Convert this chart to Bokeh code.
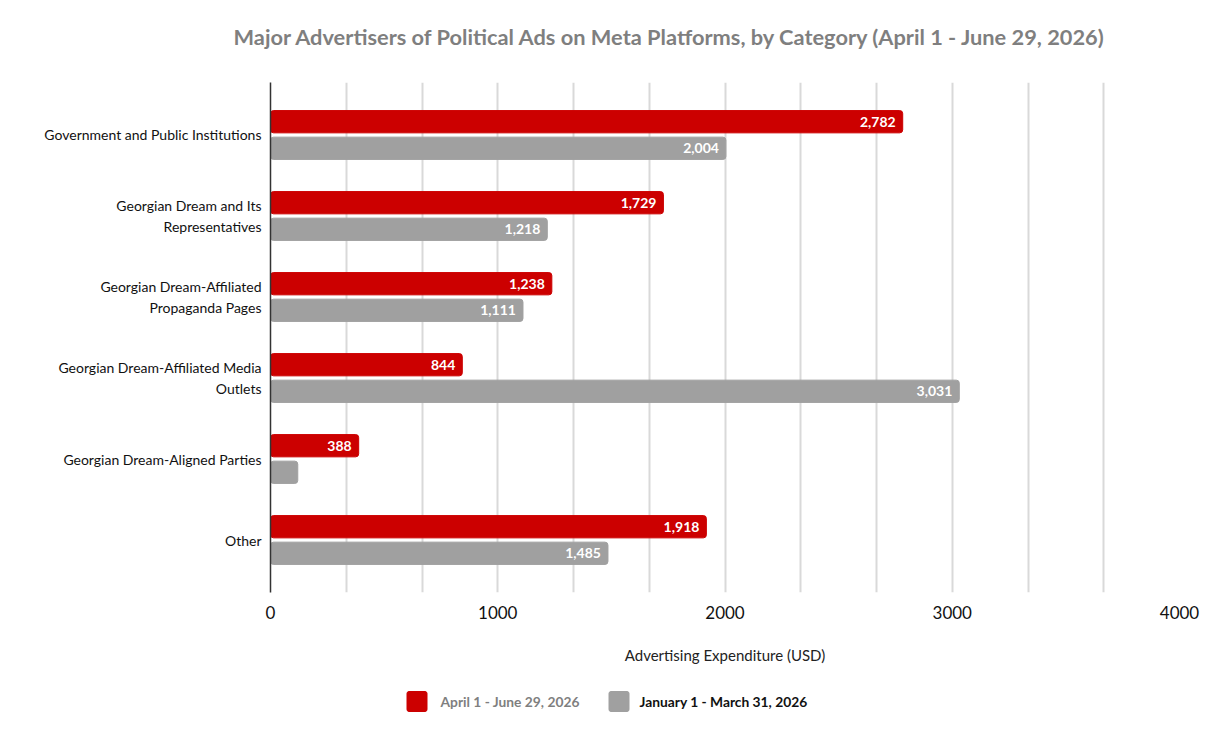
from bokeh.plotting import figure
from bokeh.layouts import column
from bokeh.models import (ColumnDataSource, Range1d, FixedTicker, Grid, Title)
from bokeh.core.properties import value
from bokeh.embed import file_html
from bokeh.resources import INLINE

categories = [
    "Government and Public Institutions",
    "Georgian Dream and Its\nRepresentatives",
    "Georgian Dream-Affiliated\nPropaganda Pages",
    "Georgian Dream-Affiliated Media\nOutlets",
    "Georgian Dream-Aligned Parties",
    "Other",
]
q2_values = [2782, 1729, 1238, 844, 388, 1918]
q1_values = [2004, 1218, 1111, 3031, 120, 1485]
q2_name = "April 1 - June 29, 2026"
q1_name = "January 1 - March 31, 2026"
x_ticks = [0, 1000, 2000, 3000, 4000]
title_text = "Major Advertisers of Political Ads on Meta Platforms, by Category (April 1 - June 29, 2026)"

RED = "#cc0000"
GRAY = "#a0a0a0"
FONT = "Lato"
W = 1209
FL, FR = 270, 1179

pos = list(range(len(categories)))
off = 0.164
bh = 0.275

def fmt(v):
    return f"{v:,}" if v >= 200 else ""

src_q2 = ColumnDataSource(dict(y=[p_ - off for p_ in pos], x=q2_values,
                               lab=[fmt(v) for v in q2_values]))
src_q1 = ColumnDataSource(dict(y=[p_ + off for p_ in pos], x=q1_values,
                               lab=[fmt(v) for v in q1_values]))

p = figure(width=W, height=675, output_backend="svg", toolbar_location=None,
           x_range=Range1d(0, 4000), y_range=Range1d(5.648, -0.648),
           min_border_left=FL, min_border_right=W - FR, min_border_top=82,
           min_border_bottom=83)
p.outline_line_color = None
p.xgrid.visible = False
p.ygrid.visible = False

t = Title(text=title_text, align="left", offset=-37,
          vertical_align="bottom", text_font_size="21.8px", text_font_style="bold",
          text_color="#7f7f7f", text_font=FONT, padding=(0, 0, 0, 28))
p.add_layout(t, "above")

grid = Grid(dimension=0, ticker=FixedTicker(ticks=[i * 1000 / 3 for i in range(13)]),
            grid_line_color="#d9d9d9", grid_line_width=2)
p.add_layout(grid)

r2 = p.hbar(y="y", right="x", left=0, height=bh, source=src_q2, color=RED,
            border_radius=3)
r1 = p.hbar(y="y", right="x", left=0, height=bh, source=src_q1, color=GRAY,
            border_radius=3)

for s in (src_q2, src_q1):
    p.text(x="x", y="y", text="lab", source=s, x_offset=-7, text_align="right",
           text_baseline="middle", text_color="white", text_font_size="14px",
           text_font_style="bold", text_font=value(FONT))

# x axis
p.xaxis.ticker = FixedTicker(ticks=x_ticks)
p.xaxis.axis_line_color = None
p.xaxis.major_tick_line_color = None
p.xaxis.minor_tick_line_color = None
p.xaxis.major_label_text_font_size = "17px"
p.xaxis.major_label_text_font = FONT
p.xaxis.major_label_text_color = "#111111"
p.xaxis.major_label_standoff = 7
p.xaxis.axis_label = "Advertising Expenditure (USD)"
p.xaxis.axis_label_text_font_size = "15px"
p.xaxis.axis_label_text_font_style = "normal"
p.xaxis.axis_label_text_font = FONT
p.xaxis.axis_label_text_color = "#222222"
p.xaxis.axis_label_standoff = 24

# y axis
p.yaxis.ticker = FixedTicker(ticks=pos)
p.yaxis.major_label_overrides = {i: c for i, c in zip(pos, categories)}
p.yaxis.axis_line_color = "#333333"
p.yaxis.axis_line_width = 1.5
p.yaxis.major_tick_line_color = None
p.yaxis.minor_tick_line_color = None
p.yaxis.major_label_text_font_size = "14px"
p.yaxis.major_label_text_font = FONT
p.yaxis.major_label_text_color = "#111111"
p.yaxis.major_label_standoff = 3

# legend strip (pixel coordinates, frame aligned with main plot)
LH = 64
lg = figure(width=W, height=LH, output_backend="svg", toolbar_location=None,
            x_range=Range1d(FL, FR), y_range=Range1d(LH, 0),
            min_border_left=FL, min_border_right=W - FR,
            min_border_top=0, min_border_bottom=0)
lg.axis.visible = False
lg.grid.visible = False
lg.outline_line_color = None
leg_src = ColumnDataSource(dict(x=[416.5, 618.5], y=[26, 26], c=[RED, GRAY],
                                tx=[440, 639], lab=[q2_name, q1_name],
                                tc=["#7f7f7f", "#111111"]))
lg.rect(x="x", y="y", width=20, height=20, color="c", source=leg_src,
        border_radius=2)
lg.text(x="tx", y="y", text="lab", text_color="tc", source=leg_src,
        text_baseline="middle", text_align="left", text_font_size="13.8px",
        text_font_style="bold", text_font=value(FONT))

layout = column(p, lg, spacing=0)
open("out.html", "w").write(file_html(layout, INLINE))
